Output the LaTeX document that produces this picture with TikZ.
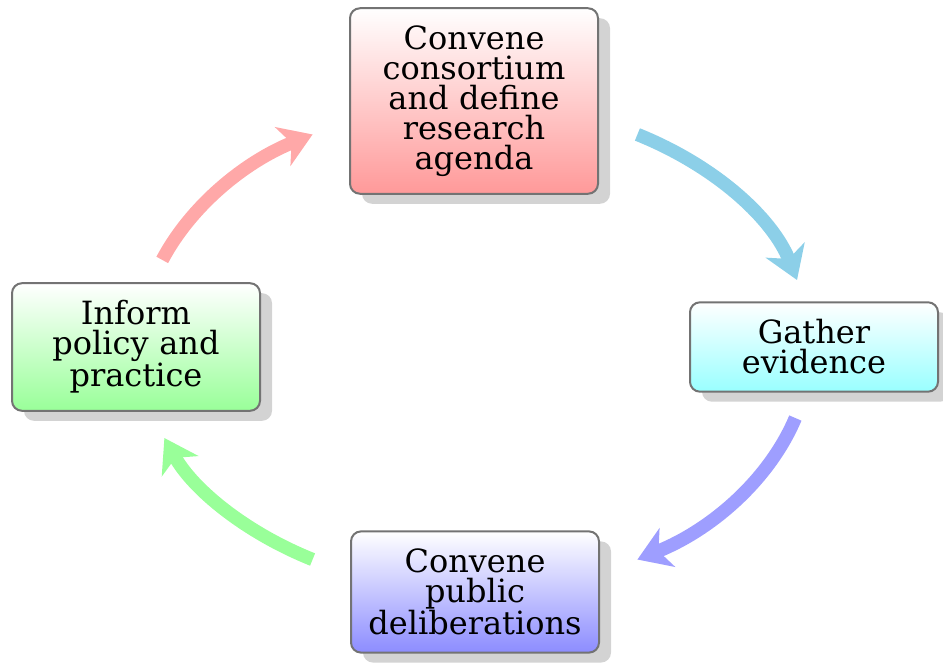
\documentclass[tikz,border=0pt]{standalone}
\usepackage{fontspec}
\setmainfont{DejaVu Serif}
\usetikzlibrary{arrows.meta,shadows,calc}
\begin{document}
\begin{tikzpicture}[x=0.75pt, y=0.75pt,
    stage/.style={draw=black!55, line width=1.5pt, rounded corners=7.5pt,
      text width=162pt, inner xsep=12pt, inner ysep=13pt, align=center,
      font=\fontsize{24}{22.5}\selectfont,
      drop shadow={shadow xshift=9pt, shadow yshift=-7.5pt, opacity=0.35}},
    cyclearrow/.style={line width=10pt, -{Stealth[length=24pt, width=31pt, inset=7pt]}}]
    \definecolor{my-red}{rgb}{1.00,0.60,0.60}
    \definecolor{my-cyan}{rgb}{0.60,1.00,1.00}
    \definecolor{my-blue}{rgb}{0.55,0.55,1.00}
    \definecolor{my-green}{rgb}{0.60,1.00,0.60}
    \definecolor{my-sky}{rgb}{0.55,0.81,0.91}
    \useasboundingbox (0,0) rectangle (943,664);
    \coordinate (c) at (475,317);
    \node[stage, top color=white, bottom color=my-red] (agenda) at (474,563)
      {Convene\\consortium\\and define\\research\\agenda};
    \node[stage, top color=white, bottom color=my-cyan] (evidence) at (814,317)
      {Gather\\evidence};
    \node[stage, top color=white, bottom color=my-blue] (public) at (475,72)
      {Convene\\public\\deliberations};
    \node[stage, top color=white, bottom color=my-green] (policy) at (136,317)
      {Inform\\policy and\\practice};
    \coordinate (a1) at ($(c)+(61:335 and 243)$);
    \coordinate (a2) at ($(c)+(-17:335 and 243)$);
    \coordinate (a3) at ($(c)+(-119:335 and 243)$);
    \coordinate (a4) at ($(c)+(159:335 and 243)$);
    \draw[cyclearrow, my-sky] (a1) arc[start angle=61, end angle=16, x radius=335, y radius=243];
    \draw[cyclearrow, my-blue!85] (a2) arc[start angle=-17, end angle=-61, x radius=335, y radius=243];
    \draw[cyclearrow, my-green] (a3) arc[start angle=-119, end angle=-158, x radius=335, y radius=243];
    \draw[cyclearrow, my-red!85] (a4) arc[start angle=159, end angle=119, x radius=335, y radius=243];
  \end{tikzpicture}
\end{document}
